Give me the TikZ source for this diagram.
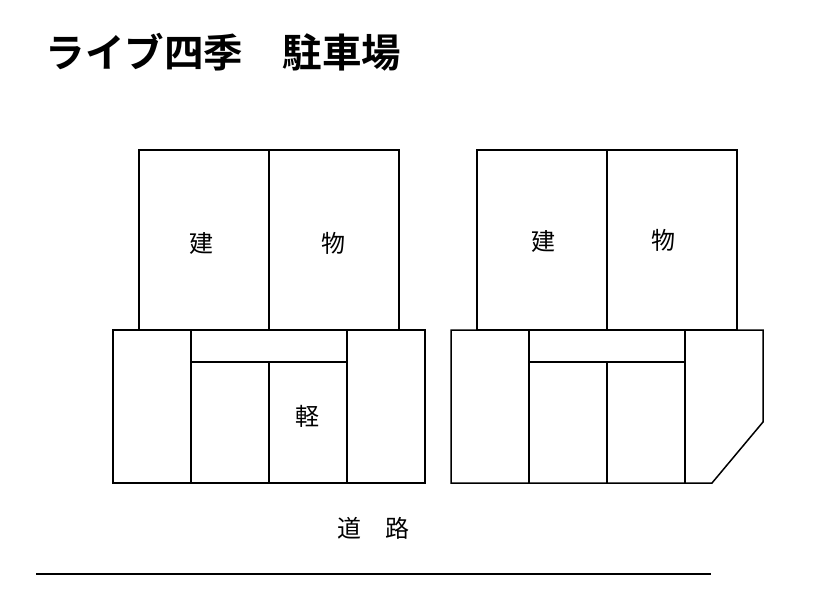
\documentclass[tikz,border=0pt]{standalone}
\usepackage{fontspec}
\newfontfamily\jp{Noto Sans CJK JP}
\newfontfamily\jpb{Noto Sans CJK JP Bold}
\begin{document}
\begin{tikzpicture}[x=1pt,y=-1pt,line width=1.5pt,
  lbl/.style={font=\jp\fontsize{24}{28}\selectfont}]
\useasboundingbox (0,0) rectangle (815,610);
\node[anchor=west,inner sep=0pt,font=\jpb\fontsize{39.5}{44}\selectfont] (title) at (45,52) {ライブ四季　駐車場};
% left
\draw (139,150) rectangle (399,330);
\draw (269,150) -- (269,330);
\draw (113,330) rectangle (425,483);
\draw (191,330) -- (191,483) (347,330) -- (347,483);
\draw (191,362) -- (347,362) (269,362) -- (269,483);
\node[lbl] (a1) at (201,243) {建};
\node[lbl] (a2) at (333,243) {物};
\node[lbl] (a3) at (307,416) {軽};
% right
\draw (477,150) rectangle (737,330);
\draw (607,150) -- (607,330);
\draw (451,330) -- (763,330) -- (763,422) -- (712,483) -- (451,483) -- cycle;
\draw (529,330) -- (529,483) (685,330) -- (685,483);
\draw (529,362) -- (685,362) (607,362) -- (607,483);
\node[lbl] (b1) at (543,241) {建};
\node[lbl] (b2) at (663,240) {物};
\node[lbl] (road) at (373,528) {道　路};
\draw (36,574) -- (711,574);
\end{tikzpicture}
\end{document}
